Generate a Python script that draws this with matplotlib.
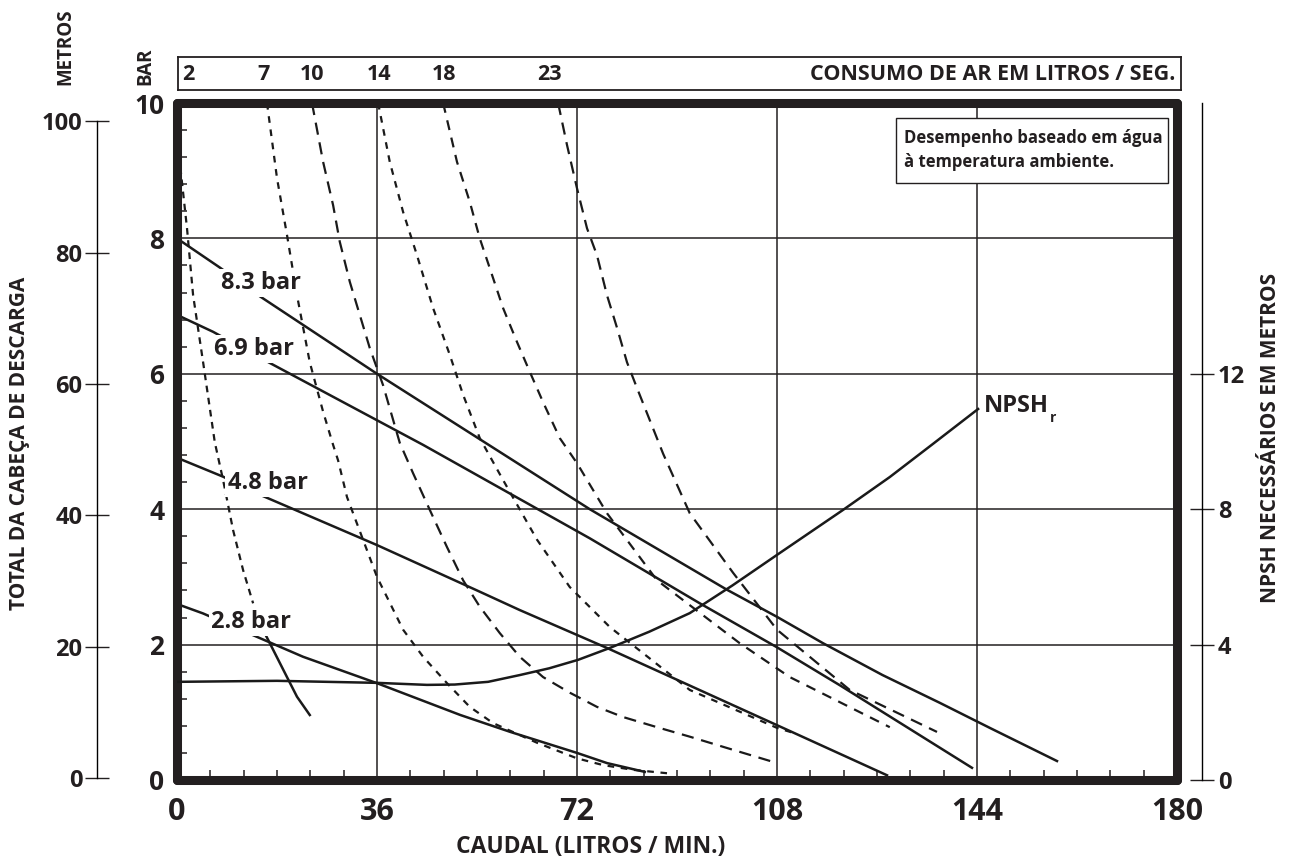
import numpy as np
import matplotlib.pyplot as plt
from matplotlib.ticker import MultipleLocator
from matplotlib.patches import Rectangle

plt.rcParams['font.family'] = ['Open Sans', 'DejaVu Sans']
plt.rcParams['font.weight'] = 'bold'

# caudal (l/min) vs cabeça (bar) for each air pressure
flow_83 = [0, 7.7, 15, 36, 74.3, 99, 108, 116.3, 127, 137.3, 146.3, 158.4]
head_83 = [8.0, 7.57, 7.14, 6.0, 4.0, 2.81, 2.41, 2.02, 1.55, 1.14, 0.77, 0.28]
flow_69 = [0, 6.5, 16.7, 44.3, 74.3, 94.1, 108, 119.3, 143.1]
head_69 = [6.87, 6.62, 6.16, 4.95, 3.57, 2.61, 1.96, 1.40, 0.18]
flow_48 = [0, 8.3, 15.3, 36, 54, 61.7, 77.4, 108, 127.8]
head_48 = [4.76, 4.48, 4.2, 3.47, 2.8, 2.51, 1.95, 0.81, 0.07]
flow_28 = [0, 4.7, 13.1, 22.7, 36, 51, 60, 72, 77.4, 84.2]
head_28 = [2.6, 2.46, 2.16, 1.82, 1.43, 0.96, 0.71, 0.4, 0.25, 0.12]

# NPSHr (metros)
flow_npsh = [0, 18, 36, 45, 50, 56, 61.7, 67, 72.2, 77.9, 85, 92.3, 100, 108, 119.9,
             128.3, 136, 144.2]
npsh = [2.9, 2.93, 2.87, 2.81, 2.82, 2.9, 3.10, 3.3, 3.55, 3.90, 4.38, 4.93, 5.75,
        6.65, 7.98, 8.95, 9.92, 10.96]

# consumo de ar (l/s)
air_labels = ['2', '7', '10', '14', '18', '23']
air_label_x = [1.8, 15.3, 24.1, 36.2, 47.9, 66.8]
air_flow = [
    [0.6, 1.8, 2.9, 4.7, 6.8, 8.3, 10.1, 11.9, 13.7],
    [16.2, 18.0, 19.8, 21.6, 23.9, 26.3, 28.1, 29.0, 30.6, 33.3, 36.0, 40.7,
     44.3, 48.6, 52.7, 56.9, 64.8, 72, 76.7, 82.1, 88.2],
    [24.3, 26.3, 28.1, 29.3, 31.1, 32.9, 34.7, 37.1, 40.1, 42.5, 45.5, 48.6,
     51.5, 54.5, 58.1, 61.7, 65.9, 70.7, 75.6, 80.3, 86.4, 92.3, 98.3, 108],
    [36.2, 38.3, 40.7, 43.2, 46.1, 49.1, 51.5, 54.5, 58.7, 64.8, 70.7, 77.9,
     92.3, 108, 111.2],
    [47.9, 50.4, 52.7, 54.5, 56.3, 58.7, 61.2, 63.5, 65.9, 68.9, 72, 77.4,
     86.4, 94.1, 101.3, 110.3, 128.3],
    [68.6, 70.2, 72, 73.8, 75.6, 77.4, 79.2, 81, 82.8, 87.5, 92.3, 100.1, 108,
     121.1, 136.8],
]
air_head = [
    [9.05, 8.15, 7.16, 6.17, 4.99, 4.43, 3.69, 3.10, 2.61],
    [10.0, 8.89, 8.05, 7.16, 6.17, 5.44, 4.95, 4.72, 4.18, 3.59, 3.0, 2.22,
     1.82, 1.43, 1.08, 0.84, 0.55, 0.32, 0.22, 0.15, 0.10],
    [10.0, 9.13, 8.49, 7.95, 7.36, 6.87, 6.38, 5.83, 4.98, 4.53, 3.99, 3.44,
     2.95, 2.56, 2.17, 1.82, 1.52, 1.29, 1.08, 0.93, 0.78, 0.64, 0.49, 0.25],
    [10.0, 9.13, 8.39, 7.75, 6.97, 6.28, 5.69, 5.05, 4.43, 3.55, 2.85, 2.26,
     1.33, 0.77, 0.69],
    [10.0, 9.13, 8.54, 8.0, 7.56, 6.97, 6.47, 6.03, 5.58, 5.05, 4.68, 3.94,
     2.95, 2.47, 2.02, 1.52, 0.78],
    [10.0, 9.38, 8.74, 8.15, 7.75, 7.16, 6.68, 6.17, 5.79, 4.82, 3.94, 3.06, 2.22,
     1.33, 0.71],
]
air_dash = [(0, (3, 2.5)), (0, (3, 3)), (0, (5.5, 3.5)), (0, (3, 3)),
            (0, (4.5, 3.5)), (0, (5.5, 3.5))]
# solid tail of the 2 l/s line below the 2.8 bar curve
flow_2_tail = [15.6, 19.8, 21.6, 23.9]
head_2_tail = [2.2, 1.52, 1.23, 0.96]

ink = '#231f20'

fig = plt.figure(figsize=(12.92, 8.68), dpi=100)
ax = fig.add_axes([177 / 1292, 88 / 868, 1000 / 1292, 677 / 868])
ax.set_xlim(0, 180)
ax.set_ylim(0, 10)

for fl, hd, ds in zip(air_flow, air_head, air_dash):
    ax.plot(fl, hd, color='#1a1a1a', lw=1.6, linestyle=ds)
ax.plot(flow_2_tail, head_2_tail, color='#1a1a1a', lw=1.8)

for fl, hd in [(flow_83, head_83), (flow_69, head_69), (flow_48, head_48), (flow_28, head_28)]:
    ax.plot(fl, hd, color='#1a1a1a', lw=1.8)

lab_kw = dict(fontsize=17, fontweight='bold', color=ink, va='center', ha='center',
              bbox=dict(facecolor='white', edgecolor='none', pad=1.5))
ax.text(15.1, 7.34, '8.3 bar', **lab_kw)
ax.text(13.9, 6.37, '6.9 bar', **lab_kw)
ax.text(16.3, 4.39, '4.8 bar', **lab_kw)
ax.text(13.4, 2.34, '2.8 bar', **lab_kw)

ax.set_xticks([0, 36, 72, 108, 144, 180])
ax.set_yticks([0, 2, 4, 6, 8, 10])
ax.xaxis.set_minor_locator(MultipleLocator(6))
ax.yaxis.set_minor_locator(MultipleLocator(0.4))
ax.grid(True, which='major', color=ink, lw=1.1)
ax.tick_params(which='major', length=0)
ax.tick_params(axis='x', which='major', labelsize=22, pad=12, colors=ink)
ax.tick_params(axis='y', which='major', labelsize=19, pad=9, colors=ink)
ax.tick_params(which='minor', direction='in', length=7, width=1.1, color=ink)
for sp in ax.spines.values():
    sp.set_linewidth(6.5)
    sp.set_color(ink)
    sp.set_capstyle('round')
for lab in ax.get_xticklabels() + ax.get_yticklabels():
    lab.set_fontweight('bold')

# nota
ax.add_patch(Rectangle((0.719, 0.882), 0.272, 0.096, transform=ax.transAxes,
                       facecolor='white', edgecolor=ink, lw=1.0, zorder=5))
ax.text(0.727, 0.931, 'Desempenho baseado em água\nà temperatura ambiente.',
        transform=ax.transAxes, fontsize=12, fontweight='bold', va='center', ha='left',
        linespacing=1.45, color=ink, zorder=6)

# metros axis
ax_m = ax.twinx()
ax_m.set_ylim(-0.3, 102.8)
for k in ['right', 'top', 'bottom']:
    ax_m.spines[k].set_visible(False)
ax_m.spines['left'].set_visible(True)
ax_m.spines['left'].set_position(('outward', 57.6))
ax_m.spines['left'].set_bounds(0, 100)
ax_m.spines['left'].set_linewidth(1.0)
ax_m.yaxis.set_ticks_position('left')
ax_m.set_yticks([0, 20, 40, 60, 80, 100])
ax_m.tick_params(axis='y', direction='inout', length=17, width=1.0, labelsize=17, pad=2,
                 colors=ink)
for lab in ax_m.get_yticklabels():
    lab.set_fontweight('bold')

# NPSH axis
ax_n = ax.twinx()
ax_n.set_ylim(0, 20)
for k in ['left', 'top', 'bottom']:
    ax_n.spines[k].set_visible(False)
ax_n.spines['right'].set_position(('outward', 18))
ax_n.spines['right'].set_linewidth(1.0)
ax_n.set_yticks([0, 4, 8, 12])
ax_n.tick_params(axis='y', direction='inout', length=17, width=1.0, labelsize=17, pad=3,
                 colors=ink)
for lab in ax_n.get_yticklabels():
    lab.set_fontweight('bold')
ax_n.plot(flow_npsh, npsh, color='#1a1a1a', lw=1.8)
ax_n.text(145.3, 11.05, 'NPSH', fontsize=17, fontweight='bold', ha='left', va='center',
          color=ink)
ax_n.text(157.2, 10.7, 'r', fontsize=10, fontweight='bold', ha='left', va='center',
          color=ink)

# top air consumption box
ax_t = fig.add_axes([178 / 1292, (868 - 90) / 868, 1003 / 1292, 33 / 868])
ax_t.set_xlim(0, 180.5)
ax_t.set_ylim(0, 1)
ax_t.set_xticks([])
ax_t.set_yticks([])
for sp in ax_t.spines.values():
    sp.set_linewidth(1.3)
    sp.set_color(ink)
for xl, lb in zip(air_label_x, air_labels):
    ax_t.text(xl, 0.48, lb, fontsize=15.5, fontweight='bold', ha='center', va='center',
              color=ink)
ax_t.text(179.5, 0.48, 'CONSUMO DE AR EM LITROS / SEG.', fontsize=15.5, fontweight='bold',
          ha='right', va='center', color=ink)

fig.text(591 / 1292, 1 - 847 / 868, 'CAUDAL (LITROS / MIN.)', fontsize=16.5,
         fontweight='bold', ha='center', va='center', color=ink)
fig.text(20 / 1292, 1 - 443 / 868, 'TOTAL DA CABEÇA DE DESCARGA', rotation=90, fontsize=15,
         fontweight='bold', ha='center', va='center', color=ink)
fig.text(1271 / 1292, 1 - 438 / 868, 'NPSH NECESSÁRIOS EM METROS', rotation=90,
         fontsize=15, fontweight='bold', ha='center', va='center', color=ink)
fig.text(65 / 1292, 1 - 47 / 868, 'METROS', rotation=90, fontsize=13.5, fontweight='bold',
         ha='center', va='center', color=ink)
fig.text(145 / 1292, 1 - 66 / 868, 'BAR', rotation=90, fontsize=13.5, fontweight='bold',
         ha='center', va='center', color=ink)

fig.savefig('out.png', dpi=100)
